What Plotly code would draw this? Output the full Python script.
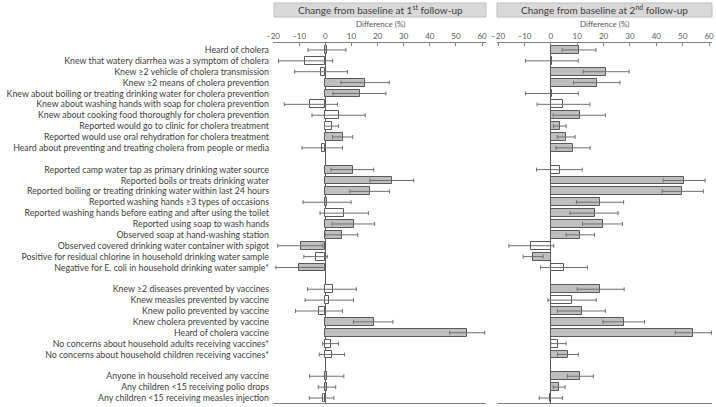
import plotly.graph_objects as go

# ---------------- data ----------------
group1 = ["Heard of cholera",
          "Knew that watery diarrhea was a symptom of cholera",
          "Knew ≥2 vehicle of cholera transmission",
          "Knew ≥2 means of cholera prevention",
          "Knew about boiling or treating drinking water for cholera prevention",
          "Knew about washing hands with soap for cholera prevention",
          "Knew about cooking food thoroughly for cholera prevention",
          "Reported would go to clinic for cholera treatment",
          "Reported would use oral rehydration for cholera treatment",
          "Heard about preventing and treating cholera from people or media"]
group2 = ["Reported camp water tap as primary drinking water source",
          "Reported boils or treats drinking water",
          "Reported boiling or treating drinking water within last 24 hours",
          "Reported washing hands ≥3 types of occasions",
          "Reported washing hands before eating and after using the toilet",
          "Reported using soap to wash hands",
          "Observed soap at hand-washing station",
          "Observed covered drinking water container with spigot",
          "Positive for residual chlorine in household drinking water sample",
          "Negative for E. coli in household drinking water sample*"]
group3 = ["Knew ≥2 diseases prevented by vaccines",
          "Knew measles prevented by vaccine",
          "Knew polio prevented by vaccine",
          "Knew cholera prevented by vaccine",
          "Heard of cholera vaccine",
          "No concerns about household adults receiving vaccines*",
          "No concerns about household children receiving vaccines*"]
group4 = ["Anyone in household received any vaccine",
          "Any children <15 receiving polio drops",
          "Any children <15 receiving measles injection"]
groups = [group1, group2, group3, group4]

# 1st follow-up: difference, lower CI, upper CI, significant (filled)
fu1_diff = [0.6, -7.7, -1.5, 15.3, 13.4, -5.7, 5.1, 2.6, 6.8, -1.3,
            10.5, 25.5, 17.0, 0.6, 7.3, 10.8, 6.3, -9.4, -3.7, -9.9,
            2.8, 1.4, -2.4, 18.6, 54.2, 2.0, 2.6,
            0.6, 0.5, -1.0]
fu1_low = [-6.6, -17.9, -11.7, 6.0, 2.9, -15.7, -5.1, -0.3, 2.8, -8.9,
           2.2, 17.1, 9.4, -8.5, -2.0, 2.6, 0.0, -18.2, -8.2, -18.9,
           -6.8, -7.7, -11.4, 10.8, 47.6, -1.0, -2.3,
           -6.0, -2.7, -6.1]
fu1_high = [7.9, 2.8, 8.5, 24.5, 23.2, 4.7, 15.3, 5.1, 10.5, 6.6,
            18.5, 33.8, 24.6, 9.9, 16.5, 18.9, 12.4, -0.9, 0.8, -0.3,
            11.9, 10.8, 6.6, 25.9, 61.0, 5.1, 7.4,
            7.1, 4.0, 3.3]
fu1_sig = [1, 0, 0, 1, 1, 0, 0, 0, 1, 0,
           1, 1, 1, 1, 0, 1, 1, 1, 0, 1,
           0, 0, 0, 1, 1, 0, 0,
           1, 1, 0]

# 2nd follow-up
fu2_diff = [10.5, 0.4, 21.1, 17.6, 0.4, 4.7, 10.9, 3.3, 5.8, 8.5,
            3.3, 50.6, 49.9, 18.7, 16.6, 19.6, 11.1, -7.5, -6.7, 5.1,
            18.8, 8.1, 11.8, 27.6, 54.0, 2.8, 6.6,
            11.1, 3.2, -0.3]
fu2_low = [4.3, -9.6, 12.3, 8.6, -9.6, -5.2, 0.9, 1.0, 2.4, 2.0,
           -5.4, 42.6, 42.2, 9.7, 7.3, 12.0, 5.8, -15.9, -10.5, -3.9,
           10.0, -1.1, 2.5, 19.8, 47.2, 0.0, 2.5,
           6.3, 0.9, -4.4]
fu2_high = [17.1, 10.4, 29.7, 26.2, 10.4, 14.8, 20.7, 5.8, 9.2, 14.9,
            11.9, 58.5, 57.9, 27.6, 25.5, 27.2, 16.6, 1.1, -2.9, 13.9,
            27.8, 17.2, 20.7, 35.5, 60.9, 5.8, 10.4,
            16.1, 5.4, 4.4]
fu2_sig = [1, 1, 1, 1, 1, 0, 1, 1, 1, 1,
           0, 1, 1, 1, 1, 1, 1, 0, 1, 0,
           1, 0, 1, 1, 1, 0, 1,
           1, 1, 1]

x_ticks = [-20, -10, 0, 10, 20, 30, 40, 50, 60]
panel_titles = ["Change from baseline at 1<sup>st</sup> follow-up",
                "Change from baseline at 2<sup>nd</sup> follow-up"]

# ---------------- layout helpers ----------------
W, H = 716, 407
labels, ypos = [], []
slot = 0
for g in groups:
    for lab in g:
        labels.append(lab)
        ypos.append(slot)
        slot += 1
    slot += 1  # blank row between groups

GRAY = "#bfbfbf"
EDGE = "#595959"
TXT = "#404040"
FONT = "Lato, Open Sans, sans-serif"

fig = go.Figure()

def add_panel(diff, low, high, sig, xa, ya):
    fig.add_trace(go.Bar(
        x=diff, y=ypos, orientation="h", width=0.72,
        marker=dict(color=[GRAY if s else "white" for s in sig],
                    line=dict(color=EDGE, width=1)),
        error_x=dict(type="data", symmetric=False,
                     array=[h - d for h, d in zip(high, diff)],
                     arrayminus=[d - l for d, l in zip(diff, low)],
                     color="#6f6f6f", thickness=1, width=2),
        xaxis=xa, yaxis=ya, showlegend=False, hoverinfo="x+y"))

add_panel(fu1_diff, fu1_low, fu1_high, fu1_sig, "x", "y")
add_panel(fu2_diff, fu2_low, fu2_high, fu2_sig, "x2", "y2")

def px_x(p):
    return p / W

def px_y(p):
    return 1 - p / H

yrange = [32.46, -0.64]
ydom = [px_y(403), px_y(43)]

common_x = dict(side="top", tickvals=x_ticks, showgrid=False, automargin=False,
                zeroline=True, zerolinecolor=EDGE, zerolinewidth=1,
                showline=True, linecolor="#7f7f7f", linewidth=1, mirror=True,
                ticks="inside", ticklen=3, tickcolor="#7f7f7f",
                tickfont=dict(family=FONT, size=8, color="#595959"),
                fixedrange=True)

fig.update_layout(
    width=W, height=H, autosize=False,
    margin=dict(l=0, r=0, t=0, b=0, pad=0, autoexpand=False),
    paper_bgcolor="white", plot_bgcolor="white",
    bargap=0,
    xaxis=dict(domain=[px_x(273), px_x(486)], range=[-20, 61.5], anchor="y", **common_x),
    xaxis2=dict(domain=[px_x(497), px_x(712)], range=[-20.4, 61.1], anchor="y2", **common_x),
    yaxis=dict(domain=ydom, range=yrange, tickvals=ypos, ticktext=labels,
               showline=False, showgrid=False, zeroline=False, ticks="",
               automargin=False, ticklabelstandoff=3, fixedrange=True,
               tickfont=dict(family=FONT, size=8.8, color=TXT), anchor="x"),
    yaxis2=dict(domain=ydom, range=yrange, showticklabels=False, showline=False,
                automargin=False, fixedrange=True,
                showgrid=False, zeroline=False, ticks="", anchor="x2"),
)

# panel header boxes and titles
for (x0, x1), title in zip([(274, 486), (497, 712)], panel_titles):
    fig.add_shape(type="rect", xref="paper", yref="paper",
                  x0=px_x(x0), x1=px_x(x1), y0=px_y(17), y1=px_y(3),
                  fillcolor="#d9d9d9", line=dict(color="#bfbfbf", width=1),
                  layer="below")
    fig.add_annotation(xref="paper", yref="paper", x=px_x((x0 + x1) / 2), y=px_y(10),
                       text=title, showarrow=False, yanchor="middle", xanchor="center",
                       font=dict(family=FONT, size=10, color=TXT))
    fig.add_annotation(xref="paper", yref="paper", x=px_x((x0 + x1) / 2), y=px_y(23.5),
                       text="Difference (%)", showarrow=False, yanchor="middle",
                       xanchor="center",
                       font=dict(family=FONT, size=8, color="#595959"))

fig.write_html("out.html",
               config={"displayModeBar": False},
               post_script="document.body.style.margin='0';document.body.style.overflow='hidden';")
